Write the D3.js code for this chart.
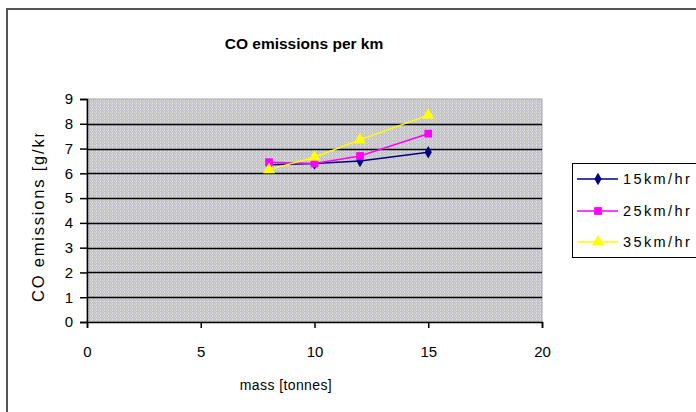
<!DOCTYPE html>
<html><head><meta charset="utf-8">
<script src="https://cdn.jsdelivr.net/npm/d3@7/dist/d3.min.js"></script>
<style>body{margin:0;background:#fff;}svg{display:block;font-family:"Liberation Sans",Arial,sans-serif;}</style>
</head><body>
<svg id="c" width="696" height="412"></svg>
<script>
const massX = [8, 10, 12, 15];
const seriesNames = ["15km/hr", "25km/hr", "35km/hr"];
const s15 = [6.35, 6.4, 6.5, 6.85];
const s25 = [6.45, 6.4, 6.7, 7.6];
const s35 = [6.15, 6.65, 7.35, 8.35];
const xTicks = [0, 5, 10, 15, 20];
const yTicks = [0, 1, 2, 3, 4, 5, 6, 7, 8, 9];
const titleText = "CO emissions per km";
const xLabel = "mass [tonnes]";
const yLabel = "CO emissions [g/km]";

const svg = d3.select("#c");
const L = 87, R = 542, T = 99, B = 322;
const x = d3.scaleLinear().domain([0, 20]).range([L, R]);
const y = d3.scaleLinear().domain([0, 9]).range([B, T]);

// outer chart border
svg.append("rect").attr("x", 7).attr("y", 9).attr("width", 720).attr("height", 440)
  .attr("fill", "#fff").attr("stroke", "#555").attr("stroke-width", 2);

// dithered plot background
const defs = svg.append("defs");
const pat = defs.append("pattern").attr("id", "dith").attr("patternUnits", "userSpaceOnUse")
  .attr("width", 4).attr("height", 3);
pat.append("rect").attr("width", 4).attr("height", 3).attr("fill", "#c3c3c3");
pat.append("rect").attr("x", 0).attr("y", 0).attr("width", 1).attr("height", 2).attr("fill", "#d8d8f0");
pat.append("rect").attr("x", 2).attr("y", 1).attr("width", 1).attr("height", 1).attr("fill", "#dcdcb8");
pat.append("rect").attr("x", 3).attr("y", 2).attr("width", 1).attr("height", 1).attr("fill", "#d2d2e2");

svg.append("rect").attr("x", L).attr("y", T).attr("width", R - L).attr("height", B - T)
  .attr("fill", "url(#dith)").attr("stroke", "#a8a8a8").attr("stroke-width", 1);

// gridlines
svg.append("g").selectAll("line").data(yTicks.filter(d => d > 0 && d < 9)).join("line")
  .attr("x1", L).attr("x2", R).attr("y1", d => Math.round(y(d)) + 0.5).attr("y2", d => Math.round(y(d)) + 0.5)
  .attr("stroke", "#000").attr("stroke-width", 1.3);

// axes
const yAxis = d3.axisLeft(y).tickValues(yTicks).tickSize(7).tickPadding(7).tickFormat(d3.format("d"));
const gy = svg.append("g").attr("transform", `translate(${L},0)`).call(yAxis);
const xAxis = d3.axisBottom(x).tickValues(xTicks).tickSize(6).tickPadding(18).tickFormat(d3.format("d"));
const gx = svg.append("g").attr("transform", `translate(0,${B})`).call(xAxis);
[gx, gy].forEach(g => {
  g.select(".domain").attr("stroke", "#000").attr("stroke-width", 1.5);
  g.selectAll(".tick line").attr("stroke", "#000").attr("stroke-width", 1.5);
  g.selectAll("text").attr("font-size", 15).attr("fill", "#000").attr("font-family", "Liberation Sans, Arial, sans-serif");
});

// series
const series = [
  {name: seriesNames[0], vals: s15, color: "#000080", sym: d3.symbolDiamond, size: 45},
  {name: seriesNames[1], vals: s25, color: "#ff00ff", sym: d3.symbolSquare, size: 60},
  {name: seriesNames[2], vals: s35, color: "#ffff00", sym: d3.symbolTriangle, size: 65}
];
const line = d3.line().x((d, i) => x(massX[i])).y(d => y(d));
series.forEach(s => {
  svg.append("path").datum(s.vals).attr("d", line).attr("fill", "none")
    .attr("stroke", s.color).attr("stroke-width", 1.5);
});
series.forEach(s => {
  svg.append("g").selectAll("path").data(s.vals).join("path")
    .attr("transform", (d, i) => `translate(${x(massX[i])},${y(d)})`)
    .attr("d", d3.symbol().type(s.sym).size(s.size)).attr("fill", s.color);
});

// title & labels
svg.append("text").attr("x", 304).attr("y", 49).attr("text-anchor", "middle")
  .attr("font-size", 15.5).attr("font-weight", "bold").text(titleText);
svg.append("text").attr("x", 286).attr("y", 390).attr("text-anchor", "middle")
  .attr("font-size", 14).attr("letter-spacing", 0.4).text(xLabel);

// y label, clipped at the top like the source
const ylg = svg.append("g");
const yt = ylg.append("text")
  .attr("transform", "translate(44,302) rotate(-90)").attr("text-anchor", "start")
  .attr("font-size", 16.5).attr("letter-spacing", 1.8).text(yLabel);
const cutLen = yt.node().getSubStringLength(0, 17);
defs.append("clipPath").attr("id", "ylc").append("rect")
  .attr("x", 0).attr("y", 302 - cutLen - 4).attr("width", 80).attr("height", 200);
ylg.attr("clip-path", "url(#ylc)");

// legend
const lg = svg.append("g");
lg.append("rect").attr("x", 572.5).attr("y", 163.5).attr("width", 140).attr("height", 94)
  .attr("fill", "#fff").attr("stroke", "#000").attr("stroke-width", 1);
const ly = [179, 211, 242];
series.forEach((s, i) => {
  lg.append("line").attr("x1", 577).attr("x2", 618).attr("y1", ly[i]).attr("y2", ly[i])
    .attr("stroke", s.color).attr("stroke-width", 1.5);
  lg.append("path").attr("transform", `translate(598,${ly[i]})`)
    .attr("d", d3.symbol().type(s.sym).size(s.size)).attr("fill", s.color);
  lg.append("text").attr("x", 623).attr("y", ly[i] + 5).attr("font-size", 14.5)
    .attr("letter-spacing", 2.4).text(s.name);
});
</script>
</body></html>
